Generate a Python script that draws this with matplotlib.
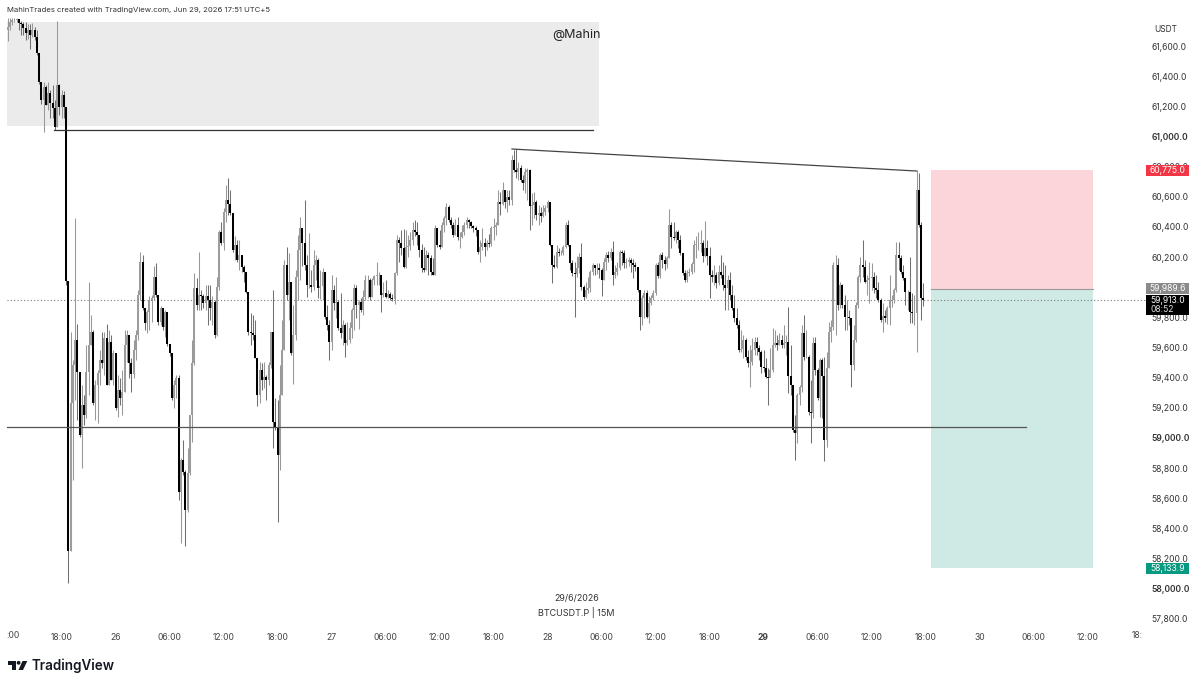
import matplotlib
matplotlib.use('Agg')

import matplotlib.pyplot as plt
from matplotlib.patches import Rectangle, Polygon, Circle

W, H = 1199, 685

plt.rcParams['font.family'] = ['Inter', 'DejaVu Sans']
plt.rcParams['font.size'] = 6.2

# 15 minute bars, one row per 6 hours, first bar is 12:00 on the 25th
closes = [
    61726, 61760, 61773, 61773, 61780, 61753, 61746, 61720, 61686, 61706, 61673, 61706, 61660, 61554, 61362, 61242, 61328, 61209, 61288, 61222, 61189, 61063, 61342, 61196,
    61275, 61196, 60041, 58250, 59232, 59484, 59650, 59438, 59020, 59219, 59153, 59438, 59617, 59703, 59232, 59351, 59431, 59517, 59497, 59663, 59351, 59636, 59385, 59564,
    59199, 59318, 59265, 59305, 59617, 59683, 59497, 59424, 59584, 59683, 59948, 60167, 59862, 59763, 59836, 59915, 59929, 60068, 59948, 59769, 59862, 59736, 59836, 59623,
    59564, 59265, 59351, 59398, 58642, 58854, 58775, 58522, 58768, 59153, 59497, 59995, 59882, 59948, 59942, 59895, 59942, 59915, 59862, 59902, 59683, 60002, 60366, 60294,
    60499, 60579, 60552, 60493, 60247, 60280, 60181, 60214, 60134, 60101, 59968, 59703, 59696, 59683, 59530, 59285, 59451, 59385, 59405, 59385, 59484, 59703, 59106, 59066,
    58887, 59285, 59584, 60148, 59948, 60035, 59564, 59683, 60068, 60247, 60393, 60294, 60148, 60015, 60015, 60002, 60148, 60181, 59995, 60008, 60101, 59803, 59750, 59636,
    59982, 59895, 59902, 59729, 59696, 59750, 59630, 59650, 59729, 59849, 59995, 59882, 59902, 59849, 59935, 60048, 60048, 59935, 60048, 60075, 60081, 60081, 59948, 59962,
    59935, 59955, 59929, 59922, 60095, 60314, 60294, 60260, 60134, 60267, 60273, 60314, 60380, 60366, 60347, 60247, 60128, 60115, 60214, 60194, 60101, 60081, 60393, 60280,
    60267, 60413, 60459, 60532, 60446, 60413, 60347, 60413, 60333, 60333, 60366, 60413, 60446, 60433, 60406, 60393, 60380, 60234, 60267, 60294, 60267, 60294, 60287, 60393,
    60400, 60413, 60565, 60552, 60645, 60565, 60599, 60579, 60844, 60778, 60765, 60791, 60711, 60692, 60765, 60778, 60539, 60545, 60565, 60479, 60493, 60473, 60499, 60526,
    60565, 60280, 60148, 60134, 60234, 60227, 60227, 60267, 60413, 60280, 60161, 60095, 60088, 60128, 60201, 60002, 59935, 59982, 59995, 60101, 60148, 60128, 60128, 60115,
    60048, 60167, 60214, 60194, 60234, 60081, 60101, 60128, 60234, 60227, 60161, 60167, 60181, 60161, 60148, 60134, 59982, 59803, 59929, 59962, 59803, 59895, 59929, 59962,
    60148, 60075, 60214, 60181, 60154, 60194, 60413, 60333, 60327, 60366, 60314, 60227, 60095, 60048, 60095, 60101, 60154, 60280, 60287, 60287, 60294, 60207, 60260, 60207,
    60081, 60068, 60081, 60028, 60101, 60081, 60015, 59995, 60048, 59948, 59862, 59796, 59750, 59584, 59590, 59650, 59537, 59497, 59504, 59584, 59636, 59597, 59570, 59471,
    59464, 59405, 59398, 59451, 59617, 59630, 59617, 59650, 59617, 59630, 59636, 59411, 59351, 59053, 59033, 59285, 59338, 59696, 59537, 59537, 59173, 59166, 59630, 59451,
    59265, 59517, 59411, 58987, 59464, 59703, 59736, 60148, 60148, 59882, 60015, 59882, 59803, 59803, 59796, 59484, 59650, 59882, 60068, 60148, 60134, 60035, 60048, 60061,
    60068, 59995, 59982, 59915, 59783, 59809, 59796, 59862, 59915, 59915, 59982, 60214, 60194, 60101, 60061, 59968, 59968, 59836, 59829, 59829, 60645, 60413, 59929, 59913,
]
highs = [
    61786, 61786, 61786, 61786, 61786, 61780, 61766, 61760, 61760, 61746, 61746, 61753, 61726, 61706, 61554, 61362, 61362, 61342, 61362, 61308, 61342, 61242, 61766, 61348,
    61308, 61302, 61196, 60041, 59703, 59517, 60459, 59756, 59438, 59351, 59285, 59617, 60035, 59816, 59716, 59385, 59451, 59584, 59703, 59703, 59756, 59716, 59683, 59584,
    59564, 59418, 59398, 59451, 59716, 59716, 59650, 59530, 59650, 59716, 59982, 60234, 60214, 59862, 59849, 59942, 59948, 60141, 60161, 59948, 59875, 59862, 59849, 59769,
    59623, 59564, 59385, 59418, 59418, 58867, 58987, 58788, 58934, 59153, 59650, 60095, 60061, 60234, 59982, 59955, 60015, 60015, 60015, 59942, 59915, 60068, 60380, 60433,
    60526, 60678, 60725, 60645, 60493, 60340, 60314, 60314, 60214, 60148, 60101, 59968, 59829, 59816, 59783, 59530, 59504, 59497, 59504, 59418, 59504, 59703, 59982, 59265,
    59252, 59484, 59783, 60181, 60267, 60227, 60035, 59882, 60115, 60347, 60466, 60393, 60579, 60214, 60360, 60115, 60247, 60214, 60194, 60115, 60128, 60101, 59882, 59783,
    60081, 60015, 60068, 59915, 59962, 59783, 59763, 59769, 59769, 59862, 60022, 60015, 59915, 59929, 59982, 60081, 60081, 60061, 60061, 60081, 60167, 60101, 60048, 60035,
    60048, 59982, 59968, 59955, 60101, 60347, 60333, 60380, 60386, 60380, 60347, 60366, 60433, 60446, 60433, 60347, 60287, 60267, 60247, 60234, 60214, 60194, 60413, 60393,
    60380, 60433, 60473, 60559, 60545, 60466, 60433, 60453, 60466, 60366, 60413, 60433, 60466, 60453, 60439, 60413, 60406, 60380, 60314, 60393, 60327, 60314, 60353, 60406,
    60459, 60433, 60645, 60632, 60698, 60645, 60645, 60645, 60877, 60910, 60917, 60831, 60811, 60745, 60791, 60791, 60785, 60625, 60632, 60579, 60545, 60532, 60545, 60545,
    60579, 60565, 60280, 60214, 60280, 60260, 60247, 60280, 60433, 60446, 60280, 60181, 60167, 60207, 60227, 60294, 60015, 60035, 60068, 60115, 60161, 60148, 60161, 60161,
    60128, 60194, 60234, 60240, 60260, 60306, 60148, 60167, 60247, 60247, 60247, 60194, 60201, 60194, 60187, 60167, 60115, 59982, 59948, 59982, 59982, 59942, 59948, 59982,
    60161, 60167, 60227, 60234, 60207, 60207, 60519, 60433, 60433, 60380, 60380, 60347, 60227, 60115, 60115, 60128, 60167, 60314, 60340, 60366, 60380, 60314, 60439, 60314,
    60267, 60115, 60148, 60101, 60148, 60214, 60167, 60148, 60081, 60101, 60015, 59948, 59862, 59783, 59716, 59683, 59663, 59584, 59617, 59663, 59670, 59670, 59617, 59584,
    59584, 59530, 59464, 59597, 59730, 59716, 59683, 59696, 59683, 59750, 59683, 59869, 59617, 59351, 59153, 59298, 59351, 59750, 59816, 59716, 59550, 59385, 59670, 59670,
    59464, 59530, 59530, 59537, 59570, 59769, 59783, 60167, 60214, 60194, 60035, 60022, 59948, 59915, 59849, 59796, 59750, 59902, 60081, 60201, 60313, 60181, 60081, 60167,
    60161, 60101, 60081, 60035, 59929, 59895, 59849, 59875, 60081, 59948, 59995, 60300, 60300, 60214, 60148, 60061, 59982, 60201, 59962, 59948, 60771, 60758, 60433, 60028,
]
lows = [
    61633, 61706, 61740, 61760, 61760, 61706, 61673, 61673, 61640, 61647, 61580, 61660, 61640, 61540, 61348, 61215, 61030, 61209, 61176, 61123, 61123, 61043, 61063, 61143,
    61123, 61123, 60015, 58038, 58250, 58722, 59252, 59120, 59007, 58801, 59086, 59133, 59285, 59617, 59219, 59120, 59100, 59351, 59464, 59418, 59351, 59351, 59385, 59351,
    59186, 59140, 59219, 59153, 59305, 59504, 59398, 59305, 59398, 59517, 59650, 59915, 59849, 59716, 59696, 59716, 59769, 59915, 59935, 59750, 59750, 59716, 59670, 59610,
    59544, 59252, 59199, 59265, 58589, 58303, 58755, 58283, 58509, 58755, 58973, 59484, 59849, 59849, 59849, 59862, 59849, 59750, 59783, 59750, 59663, 59676, 59982, 60280,
    60247, 60433, 60479, 60479, 60234, 60181, 60167, 60115, 60101, 60035, 59962, 59683, 59617, 59650, 59530, 59212, 59232, 59318, 59332, 59252, 59351, 59464, 58934, 59053,
    58443, 58788, 59285, 59584, 59915, 59783, 59550, 59358, 59650, 59915, 60048, 60141, 60115, 59935, 59995, 59968, 59982, 60048, 59929, 59922, 59915, 59789, 59716, 59517,
    59584, 59849, 59796, 59716, 59663, 59617, 59537, 59617, 59630, 59663, 59716, 59796, 59723, 59836, 59816, 59915, 59929, 59915, 59935, 60015, 60015, 60015, 59836, 59935,
    59929, 59929, 59915, 59909, 59889, 60081, 60167, 60214, 60128, 60128, 60201, 60247, 60280, 60340, 60280, 60201, 60101, 60101, 60115, 60081, 60081, 60081, 60081, 60267,
    60254, 60267, 60366, 60413, 60433, 60393, 60333, 60347, 60314, 60260, 60327, 60347, 60393, 60393, 60393, 60366, 60340, 60220, 60167, 60247, 60207, 60247, 60267, 60273,
    60314, 60347, 60413, 60479, 60545, 60526, 60499, 60545, 60545, 60765, 60725, 60711, 60698, 60645, 60625, 60579, 60380, 60413, 60459, 60446, 60413, 60433, 60466, 60479,
    60499, 60273, 60028, 60128, 60128, 60207, 60214, 60214, 60260, 60273, 60115, 60075, 59803, 60068, 60095, 59982, 59915, 59929, 59962, 59968, 60081, 60081, 60088, 60061,
    59942, 60048, 60115, 60167, 60181, 60015, 60061, 60081, 60115, 60148, 60128, 60128, 60141, 60101, 60061, 60108, 59968, 59716, 59750, 59796, 59796, 59763, 59882, 59915,
    59948, 60061, 60061, 60128, 60115, 60128, 60194, 60260, 60314, 60294, 60260, 60214, 60081, 60035, 60035, 60075, 60088, 60101, 60194, 60247, 60234, 60167, 60201, 60148,
    59929, 60035, 60015, 59995, 60015, 60061, 59982, 59849, 59849, 59915, 59849, 59769, 59730, 59570, 59570, 59530, 59517, 59471, 59338, 59484, 59550, 59550, 59517, 59431,
    59438, 59398, 59219, 59438, 59438, 59603, 59584, 59617, 59597, 59597, 59550, 59298, 59285, 59040, 58854, 58967, 59219, 59305, 59517, 59530, 59153, 58967, 59133, 59418,
    59252, 59140, 59133, 58847, 58940, 59464, 59636, 59716, 59683, 59849, 59862, 59862, 59716, 59716, 59750, 59338, 59451, 59636, 59862, 60035, 60068, 60028, 59948, 59895,
    59982, 59962, 59929, 59902, 59769, 59703, 59769, 59756, 59750, 59869, 59895, 59968, 60115, 60088, 60048, 59882, 59849, 59763, 59763, 59750, 59570, 60400, 59783, 59876,
]
opens = [61710] + closes[:-1]

# price axis, 60,000.0 sits fully behind the entry tag so it gets no label
price_ticks = [57800, 58000, 58200, 58400, 58600, 58800, 59000, 59200, 59400, 59600, 59800,
               60200, 60400, 60600, 60800, 61000, 61200, 61400, 61600]
bold_prices = [58000, 59000, 61000]

# time axis, one label every 24 bars
time_ticks = [24, 48, 72, 96, 120, 144, 168, 192, 216, 240, 264, 288, 312,
              336, 360, 384, 408, 432, 456, 480]
time_labels = ['18:00', '26', '06:00', '12:00', '18:00', '27', '06:00', '12:00', '18:00', '28',
               '06:00', '12:00', '18:00', '29', '06:00', '12:00', '18:00', '30', '06:00', '12:00']

# drawn levels and the short position
zone_top, zone_bottom = 61759, 61070
upper_level = 61040
lower_level = 59073
trend_prices = [60917, 60771]
stop_price = 60775.0
entry_price = 59989.6
target_price = 58133.9
last_price = 59913.0


def px(x, y):
    return x / W, 1 - y / H


def bar_x(x):
    return (x - 7.5) / 2.25


fig = plt.figure(figsize=(W / 100, H / 100), dpi=100)
ax = fig.add_axes([6 / W, 1 - 625 / H, (1147 - 6) / W, (625 - 17) / H])
ax.set_xlim(bar_x(6), bar_x(1147))
ax.set_ylim(57759, 61793)
for s in ax.spines.values():
    s.set_visible(False)

ax.add_patch(Rectangle((bar_x(7), zone_bottom), bar_x(599) - bar_x(7), zone_top - zone_bottom,
                       facecolor='#ebebec', edgecolor='none', zorder=1))
ax.add_patch(Rectangle((bar_x(931), entry_price), bar_x(1093) - bar_x(931), stop_price - entry_price,
                       facecolor='#fbd5d9', edgecolor='none', zorder=1))
ax.add_patch(Rectangle((bar_x(931), target_price), bar_x(1093) - bar_x(931), entry_price - target_price,
                       facecolor='#cfeae4', edgecolor='none', zorder=1))
ax.plot([bar_x(931), bar_x(1093)], [entry_price, entry_price], color='#999999', lw=0.8, zorder=1.5)

ax.plot([bar_x(7), bar_x(1147)], [last_price, last_price], color='#777777', lw=0.8,
        linestyle=(0, (1, 2)), zorder=1.5)

# candles: thin wick first, body on top
xs = list(range(len(closes)))
body_colors = ['#000000' if c < o else '#9c9c9c' for o, c in zip(opens, closes)]
wick_colors = ['#707070' if c < o else '#989898' for o, c in zip(opens, closes)]
ax.vlines(xs, lows, highs, colors=wick_colors, linewidth=0.75, capstyle='butt', zorder=2)
ax.vlines(xs, opens, closes, colors=body_colors, linewidth=1.45, capstyle='butt', zorder=2.2)

ax.plot([bar_x(54), bar_x(593)], [upper_level, upper_level], color='#333333', lw=0.9, zorder=3)
ax.plot([bar_x(7), bar_x(1026)], [lower_level, lower_level], color='#555555', lw=0.9, zorder=3)
ax.plot([bar_x(512), bar_x(917)], trend_prices, color='#444444', lw=0.9, zorder=3)

# axes
ax.yaxis.tick_right()
ax.set_yticks(price_ticks)
ax.set_yticklabels([f'{p:,.1f}' for p in price_ticks])
for lab, p in zip(ax.get_yticklabels(), price_ticks):
    lab.set_color('#333333')
    if p in bold_prices:
        lab.set_fontweight('semibold')
ax.set_xticks(time_ticks)
ax.set_xticklabels(time_labels)
for lab, t in zip(ax.get_xticklabels(), time_labels):
    lab.set_color('#444444')
    if t == '29':
        lab.set_fontweight('bold')
ax.tick_params(axis='both', length=0)
ax.tick_params(axis='x', pad=5.5)
ax.tick_params(axis='y', pad=3.5)

# labels cut off at the edges of the time axis
fig.text(*px(6, 636), ':00', color='#444444', va='center', ha='left')
fig.text(*px(1132, 636), '18:', color='#444444', va='center', ha='left')

# price tags on the right, above the tick labels
tr = ax.get_yaxis_transform()
tag_l = 1 - 1 / (1147 - 6)
tag_w = 43 / (1147 - 6)
price_per_px = (61793 - 57759) / (625 - 17)


def price_tag(price, text, color, top=5.5, bottom=5.5):
    ax.add_patch(Rectangle((tag_l, price - bottom * price_per_px), tag_w, (top + bottom) * price_per_px,
                           transform=tr, facecolor=color, edgecolor='none', clip_on=False, zorder=5))
    ax.text(tag_l + tag_w / 2, price, text, transform=tr, color='white', ha='center', va='center',
            clip_on=False, zorder=6)


price_tag(stop_price, f'{stop_price:,.1f}', '#f23645')
price_tag(entry_price, f'{entry_price:,.1f}', '#8a8a8a')
price_tag(target_price, f'{target_price:,.1f}', '#089981')
price_tag(last_price, f'{last_price:,.1f}', '#000000', top=5.5, bottom=15)
fig.text(*px(1162, 310), '08:52', color='#dddddd', ha='center', va='center', zorder=7)

# header and footer text
fig.text(*px(7, 10), 'MahinTrades created with TradingView.com, Jun 29, 2026 17:51 UTC+5',
         color='#333333', fontsize=5.55, va='center', ha='left')
fig.text(*px(1154, 29), 'USDT', color='#333333', fontsize=6, va='center', ha='left')
fig.text(*px(552, 35), '@Mahin', color='#222222', fontsize=9, va='center', ha='left')
fig.text(*px(577, 598), '29/6/2026', color='#333333', fontsize=6.4, va='center', ha='center')
fig.text(*px(576, 613), 'BTCUSDT.P | 15M', color='#333333', fontsize=6.5, va='center', ha='center')

# logo
logo = '#131722'
bar = [px(8, 661), px(15.5, 661), px(15.5, 670), px(11.5, 670), px(11.5, 664.5), px(8, 664.5)]
slash = [px(22.5, 661), px(27.3, 661), px(23, 670), px(18.5, 670)]
fig.add_artist(Polygon(bar, closed=True, facecolor=logo, edgecolor='none', transform=fig.transFigure))
fig.add_artist(Polygon(slash, closed=True, facecolor=logo, edgecolor='none', transform=fig.transFigure))
fig.add_artist(Circle((18.6, H - 662.8), 1.9, facecolor=logo, edgecolor='none', transform=None))
fig.text(*px(32, 665.5), 'TradingView', color=logo, fontsize=9.7, fontweight='semibold', va='center', ha='left')

fig.savefig('out.png', dpi=100)
